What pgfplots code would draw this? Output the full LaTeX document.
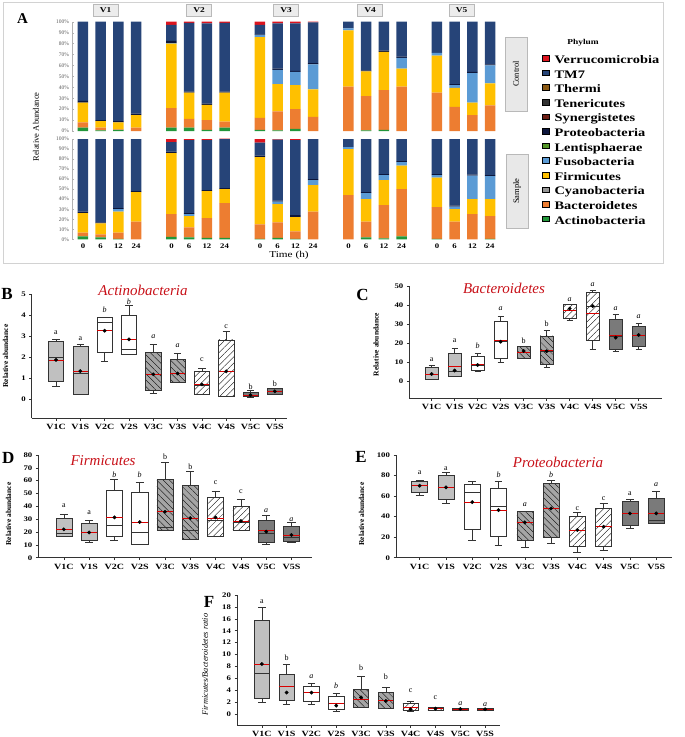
\documentclass[border=0pt]{standalone}
\usepackage{pgfplots}
\pgfplotsset{compat=1.18}
\usepackage{pgfplotstable}
\usepgfplotslibrary{statistics}
\usetikzlibrary{patterns.meta}
\usepackage{fontspec}
\setmainfont{Liberation Serif}
\newfontfamily\wide{Liberation Serif}[FakeStretch=1.25]

\definecolor{cAct}{RGB}{34,150,58}
\definecolor{cBac}{RGB}{237,125,49}
\definecolor{cCya}{RGB}{150,150,150}
\definecolor{cFir}{RGB}{255,192,0}
\definecolor{cFus}{RGB}{91,155,213}
\definecolor{cLen}{RGB}{84,150,40}
\definecolor{cPro}{RGB}{12,22,60}
\definecolor{cSyn}{RGB}{110,30,20}
\definecolor{cTen}{RGB}{50,50,50}
\definecolor{cThe}{RGB}{140,90,20}
\definecolor{cTM}{RGB}{38,68,120}
\definecolor{cVer}{RGB}{220,20,30}
\definecolor{boxA}{RGB}{192,192,192}
\definecolor{boxC}{RGB}{165,165,165}
\definecolor{boxE}{RGB}{122,122,122}
\definecolor{titred}{RGB}{200,16,24}

% ---------------- Panel A data ----------------
\pgfplotstableread{
x act bac fir fus pro tm7 ver
0 3 5 18 0 1.5 72.5 0
1 0.5 2.5 6 0 1 90 0
2 1 0.5 6.5 0 1 91 0
3 0 3 11.6 0 1.4 84 0
5 3 18 59 0.5 2 14.5 3
6 3 8 24 0 1 63 1
7 1 9 14 0 1 73.5 1.5
8 3 5.5 26.5 0 1 63 1
10 1 11 74 2 0.5 8.5 3
11 0.5 17.5 25 13 1 41.5 1.5
12 2 18 22 12 1 43.5 1.5
13 0 13 25 23 1 37.5 0.5
15 0 40.5 51.5 2 0 6 0
16 0.5 31.5 22.5 0 1 44.5 0
17 1 36.5 35 0 1 26.5 0
18 0 40.5 16.5 10 1 32 0
20 0 35 34 2.5 0 28.5 0
21 0 22 17.5 2.5 1 57 0
22 0 14.5 11.5 27 1 46 0
23 0 23.5 20 16.5 1 39 0
}\ctrl
\pgfplotstableread{
x act bac fir fus pro tm7 ver
0 3 3.6 19.4 0 1.5 72.5 0
1 2 3 11 0 1 83 0
2 0.5 6.1 20.9 2.5 1 69 0
3 0 17.6 29.4 0 1 52 0
5 2.5 22.5 61 0 1.5 9.5 3
6 2 10 11 2 1 73 1
7 1.5 19.5 27 0 1 50 1
8 1.5 34.5 14 0 1 49 0.5
10 0.5 14.5 67 0 1.5 13 3.5
11 1.5 15.5 18 2.5 1 61 0.5
12 0.5 7.5 14 0 2 75 1
13 0 27.5 26.5 5 1 40 0
15 0 44 46 2 0 8 0
16 2 15.6 22.4 6 1 53 0
17 1 33 25 5 1 35 0
18 3 47 23.5 3.5 1 22 0
20 0.5 31.5 29.5 2.5 1 35 0
21 0 17.6 12.4 2.5 1 66.5 0
22 0 25 15 23.5 1 35.5 0
23 0.5 22.5 17 23 1 36 0
}\smpl

% ---------------- Box plot data ----------------
\pgfplotstableread{
pos lw lq med uq uw mean dot
0 0.63 0.84 1.98 2.74 2.85 1.87 1.87
1 0.24 0.24 1.23 2.50 2.63 1.34 1.34
2 1.82 2.25 3.66 3.89 3.92 3.26 3.26
3 2.15 2.15 2.37 3.99 4.48 2.85 2.85
4 0.28 0.44 1.19 2.23 2.61 1.19 1.19
5 0.79 0.79 1.23 1.90 2.18 1.23 1.23
6 0.25 0.25 0.65 1.34 1.46 0.71 0.71
7 0.17 0.17 1.33 2.82 3.24 1.33 1.33
8 0.10 0.16 0.20 0.33 0.41 0.20 0.20
9 0.25 0.25 0.40 0.52 0.52 0.38 0.38
}\tB
\pgfplotstableread{
pos lw lq med uq uw mean dot
0 1.2 1.2 4.0 7.5 8.7 4.0 4.0
1 2.6 3.0 5.7 14.8 17.4 7.8 5.8
2 5.7 6.1 8.7 13.1 14.8 9.1 8.7
3 9.9 12.2 21.0 31.4 34.0 21.4 20.9
4 12.2 12.2 15.5 18.3 18.3 15.5 16.0
5 7.5 9.1 15.9 23.9 26.7 16.2 15.9
6 31.9 33.1 37.5 40.4 40.4 37.5 38.2
7 16.9 21.4 39.5 46.5 47.6 35.7 39.5
8 15.7 16.9 23.5 32.6 35.4 24.0 23.0
9 17.2 18.6 24.4 29.1 30.5 24.4 24.4
}\tC
\pgfplotstableread{
pos lw lq med uq uw mean dot
0 16.4 16.9 19.0 30.6 34.0 22.1 22.1
1 12.0 13.8 19.7 26.8 28.8 19.7 19.7
2 13.8 16.4 25.2 52.2 61.0 31.4 31.4
3 10.6 10.6 20.0 50.9 59.0 27.8 27.8
4 21.0 21.6 23.6 61.3 74.0 35.8 35.8
5 14.3 14.3 21.6 56.6 67.0 30.9 30.9
6 16.9 17.1 29.4 47.0 52.0 30.6 31.4
7 21.6 21.6 27.3 39.7 45.5 28.6 28.6
8 10.6 12.0 19.0 29.4 33.2 21.0 20.3
9 11.7 12.5 15.6 24.7 27.3 17.7 17.7
}\tD
\pgfplotstableread{
pos lw lq med uq uw mean dot
0 61.0 63.3 70.1 74.7 75.0 70.1 70.1
1 52.9 56.8 68.8 80.2 83.1 68.8 68.5
2 16.6 27.9 63.3 71.4 74.0 54.2 54.2
3 12.0 20.5 49.7 67.9 74.0 46.4 46.4
4 10.0 17.2 34.4 44.8 44.8 34.4 34.4
5 14.0 19.8 48.0 72.4 75.6 48.0 48.0
6 5.8 10.7 27.0 40.6 43.8 27.0 27.0
7 7.5 11.4 30.2 48.1 53.0 30.2 30.2
8 28.6 31.8 43.1 54.5 57.2 43.1 43.1
9 33.9 33.9 36.0 57.8 64.3 43.1 43.1
}\tE
\pgfplotstableread{
pos lw lq med uq uw mean dot
0 2.0 2.63 6.8 15.7 17.9 8.4 8.4
1 1.68 2.35 4.6 6.72 8.4 4.6 3.6
2 1.68 2.2 3.6 4.6 5.15 3.6 3.6
3 0.4 0.8 1.8 3.0 3.5 1.8 1.4
4 1.12 1.12 2.47 4.15 6.4 2.47 2.8
5 0.95 0.95 2.35 3.6 4.5 2.35 2.2
6 0.4 0.56 1.1 1.8 2.2 1.1 0.8
7 0.56 0.56 0.9 1.1 1.2 0.9 0.9
8 0.7 0.7 0.85 0.95 0.95 0.85 0.85
9 0.56 0.56 0.8 0.9 0.9 0.8 0.8
}\tF

% one box from row #2 of table #1; box extend #3, whisker extend #4
\newcommand\bxrow[4]{%
  \pgfplotstablegetelem{#2}{lw}\of#1\edef\vlw{\pgfplotsretval}%
  \pgfplotstablegetelem{#2}{lq}\of#1\edef\vlq{\pgfplotsretval}%
  \pgfplotstablegetelem{#2}{med}\of#1\edef\vmed{\pgfplotsretval}%
  \pgfplotstablegetelem{#2}{uq}\of#1\edef\vuq{\pgfplotsretval}%
  \pgfplotstablegetelem{#2}{uw}\of#1\edef\vuw{\pgfplotsretval}%
  \edef\tmp{\noexpand\addplot[bx#2, draw=black!80, line width=0.5pt,
    boxplot prepared={draw direction=y, draw position=#2, lower whisker=\vlw, lower quartile=\vlq,
      median=\vmed, upper quartile=\vuq, upper whisker=\vuw,
      box extend=#3, whisker extend=#4}] coordinates {};}%
  \tmp
}

\tikzset{lbl/.style={font=\fontsize{8}{9}\selectfont, inner sep=0pt}}

\pgfplotsset{
  bx0/.style={boxplot/every box/.style={fill=boxA, draw=black!80}},
  bx1/.style={boxplot/every box/.style={fill=boxA, draw=black!80}},
  bx2/.style={boxplot/every box/.style={fill=white, draw=black!80}},
  bx3/.style={boxplot/every box/.style={fill=white, draw=black!80}},
  bx4/.style={boxplot/every box/.style={fill=boxC, draw=black!80, postaction={pattern={Lines[angle=-45,distance=4.5pt,line width=0.35pt]}}}},
  bx5/.style={boxplot/every box/.style={fill=boxC, draw=black!80, postaction={pattern={Lines[angle=-45,distance=4.5pt,line width=0.35pt]}}}},
  bx6/.style={boxplot/every box/.style={fill=white, draw=black!80, postaction={pattern={Lines[angle=45,distance=4.5pt,line width=0.35pt]}}}},
  bx7/.style={boxplot/every box/.style={fill=white, draw=black!80, postaction={pattern={Lines[angle=45,distance=4.5pt,line width=0.35pt]}}}},
  bx8/.style={boxplot/every box/.style={fill=boxE, draw=black!80}},
  bx9/.style={boxplot/every box/.style={fill=boxE, draw=black!80}},
  boxax/.style={scale only axis, anchor=south west, axis lines*=left, clip=false,
    axis line style={black!80, line width=0.6pt}, tick align=outside,
    major tick length=2.5pt, tick style={black!80, line width=0.5pt},
    xtick={0,...,9}, xticklabels={V1C,V1S,V2C,V2S,V3C,V3S,V4C,V4S,V5C,V5S},
    x tick label style={font=\wide\bfseries\fontsize{8}{9}\selectfont},
    y tick label style={font=\wide\bfseries\fontsize{7}{8}\selectfont},
    /pgf/number format/assume math mode=true, enlargelimits=false},
  barax/.style={scale only axis, anchor=south west, width=428.7pt,
    xmin=-0.62, xmax=23.6, ymin=0, ymax=100, ybar stacked, bar width=10.5pt,
    axis lines*=left, x axis line style={draw=none}, xtick style={draw=none},
    y axis line style={gray!60, line width=0.4pt}, ytick style={gray!60},
    ytick={0,10,...,100}, major tick length=1.5pt,
    yticklabels={0\%,10\%,20\%,30\%,40\%,50\%,60\%,70\%,80\%,90\%,100\%},
    y tick label style={font=\fontsize{5.5}{6}\selectfont, text=black!65, xshift=0.5pt},
    enlargelimits=false, clip=false}
}

\begin{document}
\begin{tikzpicture}
\path[use as bounding box] (0,0) rectangle (685pt,-737pt);

% ================= PANEL A =================
\draw[gray!35, line width=0.6pt] (3pt,-2pt) rectangle (663pt,-263pt);
\node[font=\bfseries\fontsize{15}{16}\selectfont] at (22.5pt,-19pt) {A};

\begin{axis}[barax, at={(72pt,-131pt)}, height=109.3pt, xtick=\empty]
\addplot[fill=cAct, draw=none] table[x=x, y=act]{\ctrl};
\addplot[fill=cBac, draw=none] table[x=x, y=bac]{\ctrl};
\addplot[fill=cFir, draw=none] table[x=x, y=fir]{\ctrl};
\addplot[fill=cFus, draw=none] table[x=x, y=fus]{\ctrl};
\addplot[fill=cPro, draw=none] table[x=x, y=pro]{\ctrl};
\addplot[fill=cTM, draw=none] table[x=x, y=tm7]{\ctrl};
\addplot[fill=cVer, draw=none] table[x=x, y=ver]{\ctrl};
\end{axis}

\begin{axis}[barax, at={(72pt,-239.3pt)}, height=100.3pt,
  xtick={0,1,2,3,5,6,7,8,10,11,12,13,15,16,17,18,20,21,22,23},
  xticklabels={0,6,12,24,0,6,12,24,0,6,12,24,0,6,12,24,0,6,12,24},
  x tick label style={font=\wide\bfseries\fontsize{7}{8}\selectfont, yshift=-1pt}]
\addplot[fill=cAct, draw=none] table[x=x, y=act]{\smpl};
\addplot[fill=cBac, draw=none] table[x=x, y=bac]{\smpl};
\addplot[fill=cFir, draw=none] table[x=x, y=fir]{\smpl};
\addplot[fill=cFus, draw=none] table[x=x, y=fus]{\smpl};
\addplot[fill=cPro, draw=none] table[x=x, y=pro]{\smpl};
\addplot[fill=cTM, draw=none] table[x=x, y=tm7]{\smpl};
\addplot[fill=cVer, draw=none] table[x=x, y=ver]{\smpl};
\end{axis}

\node[rotate=90, font=\fontsize{8.5}{9}\selectfont] at (36pt,-127pt) {Relative Abundance};
\node[font=\wide\fontsize{9}{10}\selectfont] at (289pt,-255pt) {Time (h)};

\foreach \lab/\cx in {V1/105.5,V2/199,V3/286,V4/370,V5/461.5}
  \node[draw=gray!55, fill=gray!15, minimum width=25pt, minimum height=12pt, inner sep=0pt,
        font=\wide\bfseries\fontsize{7.5}{8}\selectfont] at (\cx pt,-10.5pt) {\lab};

\node[draw=gray!55, fill=gray!18, minimum width=22pt, minimum height=74pt, inner sep=0pt] at (516pt,-74pt) {};
\node[rotate=90, font=\fontsize{8.5}{9}\selectfont] at (516pt,-74pt) {Control};
\node[draw=gray!55, fill=gray!18, minimum width=22pt, minimum height=74pt, inner sep=0pt] at (517pt,-191pt) {};
\node[rotate=90, font=\fontsize{8.5}{9}\selectfont] at (517pt,-191pt) {Sample};

\node[font=\wide\bfseries\fontsize{7.5}{8}\selectfont] at (583pt,-43pt) {Phylum};
\begin{axis}[at={(542pt,-55pt)}, anchor=north west, hide axis, scale only axis,
  width=1pt, height=1pt, xmin=0, xmax=1, ymin=0, ymax=1,
  legend style={at={(0,1)}, anchor=north west, draw=none, fill=none, inner sep=0pt,
    font=\wide\bfseries\fontsize{11.5}{12}\selectfont, row sep=4.4pt,
    nodes={inner sep=0pt, text height=8pt, text depth=2pt},
    /tikz/every odd column/.style={column sep=5pt}},
  legend cell align=left,
  legend image code/.code={\fill[#1] (0pt,-0.5pt) rectangle (7pt,5pt);}]
\addlegendimage{fill=cVer}\addlegendentry{Verrucomicrobia}
\addlegendimage{fill=cTM}\addlegendentry{TM7}
\addlegendimage{fill=cThe}\addlegendentry{Thermi}
\addlegendimage{fill=cTen}\addlegendentry{Tenericutes}
\addlegendimage{fill=cSyn}\addlegendentry{Synergistetes}
\addlegendimage{fill=cPro}\addlegendentry{Proteobacteria}
\addlegendimage{fill=cLen}\addlegendentry{Lentisphaerae}
\addlegendimage{fill=cFus}\addlegendentry{Fusobacteria}
\addlegendimage{fill=cFir}\addlegendentry{Firmicutes}
\addlegendimage{fill=cCya}\addlegendentry{Cyanobacteria}
\addlegendimage{fill=cBac}\addlegendentry{Bacteroidetes}
\addlegendimage{fill=cAct}\addlegendentry{Actinobacteria}
\end{axis}

% ================= PANEL B =================
\begin{axis}[boxax, at={(31.7pt,-418.3pt)}, width=255.3pt, height=124.3pt,
  xmin=-1, xmax=9.5, ymin=-0.9, ymax=5, ytick={0,...,5}]
\pgfplotsinvokeforeach{0,...,9}{\bxrow{\tB}{#1}{0.62}{0.3}}
\addplot[only marks, mark=-, mark size=7.5pt, mark options={draw=red!85!black, line width=0.6pt}] table[x=pos, y=mean]{\tB};
\addplot[only marks, mark=*, mark size=1.7pt, black] table[x=pos, y=dot]{\tB};
\node[lbl] at (axis cs:0,3.16) {a};
\node[lbl] at (axis cs:1,2.86) {a};
\node[lbl] at (axis cs:2,4.27) {\itshape b};
\node[lbl] at (axis cs:3,4.64) {\itshape b};
\node[lbl] at (axis cs:4,2.97) {\itshape a};
\node[lbl] at (axis cs:5,2.53) {\itshape a};
\node[lbl] at (axis cs:6,1.87) {c};
\node[lbl] at (axis cs:7,3.45) {c};
\node[lbl] at (axis cs:8,0.62) {b};
\node[lbl] at (axis cs:9,0.76) {b};
\end{axis}
\node[font=\bfseries\fontsize{17}{18}\selectfont] at (7pt,-294pt) {B};
\node[font=\itshape\fontsize{15}{16}\selectfont, text=titred] at (143pt,-290.5pt) {Actinobacteria};
\node[rotate=90, font=\bfseries\fontsize{7.5}{8}\selectfont] at (5.5pt,-356pt) {Relative abundance};

% ================= PANEL C =================
\begin{axis}[boxax, at={(409.3pt,-398.3pt)}, width=252.4pt, height=112.3pt,
  xmin=-0.97, xmax=10, ymin=-8.7, ymax=50, ytick={0,10,...,50}]
\pgfplotsinvokeforeach{0,...,9}{\bxrow{\tC}{#1}{0.54}{0.27}}
\addplot[only marks, mark=-, mark size=6.2pt, mark options={draw=red!85!black, line width=0.6pt}] table[x=pos, y=mean]{\tC};
\addplot[only marks, mark=*, mark size=1.7pt, black] table[x=pos, y=dot]{\tC};
\node[lbl] at (axis cs:0,11.7) {a};
\node[lbl] at (axis cs:1,21.4) {a};
\node[lbl] at (axis cs:2,18.6) {\itshape b};
\node[lbl] at (axis cs:3,38.3) {\itshape a};
\node[lbl] at (axis cs:4,21.4) {b};
\node[lbl] at (axis cs:5,30.1) {b};
\node[lbl] at (axis cs:6,42.7) {\itshape a};
\node[lbl] at (axis cs:7,50.5) {\itshape a};
\node[lbl] at (axis cs:8,38.3) {\itshape a};
\node[lbl] at (axis cs:9,34.0) {\itshape a};
\end{axis}
\node[font=\bfseries\fontsize{17}{18}\selectfont] at (362.5pt,-295pt) {C};
\node[font=\itshape\fontsize{15}{16}\selectfont, text=titred] at (504pt,-288pt) {Bacteroidetes};
\node[rotate=90, font=\bfseries\fontsize{7.5}{8}\selectfont] at (376pt,-344.5pt) {Relative abundance};

% ================= PANEL D =================
\begin{axis}[boxax, at={(38.3pt,-557.7pt)}, width=273.4pt, height=102.7pt,
  xmin=-1.01, xmax=9.8, ymin=0, ymax=80, ytick={0,10,...,80}]
\pgfplotsinvokeforeach{0,...,9}{\bxrow{\tD}{#1}{0.64}{0.32}}
\addplot[only marks, mark=-, mark size=8.1pt, mark options={draw=red!85!black, line width=0.6pt}] table[x=pos, y=mean]{\tD};
\addplot[only marks, mark=*, mark size=1.7pt, black] table[x=pos, y=dot]{\tD};
\node[lbl] at (axis cs:0,40.3) {a};
\node[lbl] at (axis cs:1,35.0) {a};
\node[lbl] at (axis cs:2,64.4) {\itshape b};
\node[lbl] at (axis cs:3,64.4) {\itshape b};
\node[lbl] at (axis cs:4,78.7) {b};
\node[lbl] at (axis cs:5,70.9) {b};
\node[lbl] at (axis cs:6,58.4) {c};
\node[lbl] at (axis cs:7,51.4) {c};
\node[lbl] at (axis cs:8,36.6) {\itshape a};
\node[lbl] at (axis cs:9,29.4) {\itshape a};
\end{axis}
\node[font=\bfseries\fontsize{17}{18}\selectfont] at (8.3pt,-458pt) {D};
\node[font=\itshape\fontsize{15}{16}\selectfont, text=titred] at (103pt,-461pt) {Firmicutes};
\node[rotate=90, font=\bfseries\fontsize{7.5}{8}\selectfont] at (8.5pt,-514pt) {Relative abundance};

% ================= PANEL E =================
\begin{axis}[boxax, at={(396pt,-557.7pt)}, width=276pt, height=102.7pt,
  xmin=-0.9, xmax=9.6, ymin=0, ymax=100, ytick={0,20,...,100}]
\pgfplotsinvokeforeach{0,...,9}{\bxrow{\tE}{#1}{0.61}{0.3}}
\addplot[only marks, mark=-, mark size=8pt, mark options={draw=red!85!black, line width=0.6pt}] table[x=pos, y=mean]{\tE};
\addplot[only marks, mark=*, mark size=1.7pt, black] table[x=pos, y=dot]{\tE};
\node[lbl] at (axis cs:0,82.8) {a};
\node[lbl] at (axis cs:1,87.0) {a};
\node[lbl] at (axis cs:3,80.5) {\itshape b};
\node[lbl] at (axis cs:4,51.3) {\itshape a};
\node[lbl] at (axis cs:5,80.5) {\itshape b};
\node[lbl] at (axis cs:6,47.4) {c};
\node[lbl] at (axis cs:7,57.8) {c};
\node[lbl] at (axis cs:8,62.7) {a};
\node[lbl] at (axis cs:9,70.8) {\itshape a};
\end{axis}
\node[font=\bfseries\fontsize{17}{18}\selectfont] at (361pt,-457pt) {E};
\node[font=\itshape\fontsize{15}{16}\selectfont, text=titred] at (558pt,-462pt) {Proteobacteria};
\node[rotate=90, font=\bfseries\fontsize{7.5}{8}\selectfont] at (361.5pt,-514pt) {Relative abundance};

% ================= PANEL F =================
\begin{axis}[boxax, at={(237pt,-725pt)}, width=263pt, height=130pt,
  xmin=-1, xmax=9.6, ymin=-1.85, ymax=20, ytick={0,2,...,20}]
\pgfplotsinvokeforeach{0,...,9}{\bxrow{\tF}{#1}{0.62}{0.3}}
\addplot[only marks, mark=-, mark size=7.6pt, mark options={draw=red!85!black, line width=0.6pt}] table[x=pos, y=mean]{\tF};
\addplot[only marks, mark=*, mark size=1.7pt, black] table[x=pos, y=dot]{\tF};
\node[lbl] at (axis cs:0,18.8) {a};
\node[lbl] at (axis cs:1,9.4) {b};
\node[lbl] at (axis cs:2,6.3) {\itshape a};
\node[lbl] at (axis cs:3,4.76) {\itshape b};
\node[lbl] at (axis cs:4,7.8) {b};
\node[lbl] at (axis cs:5,6.3) {b};
\node[lbl] at (axis cs:6,3.9) {c};
\node[lbl] at (axis cs:7,2.75) {c};
\node[lbl] at (axis cs:8,1.68) {\itshape a};
\node[lbl] at (axis cs:9,1.6) {\itshape a};
\end{axis}
\node[font=\bfseries\fontsize{17}{18}\selectfont] at (209pt,-601.5pt) {F};
\node[rotate=90, font=\itshape\fontsize{8.3}{9}\selectfont] at (205pt,-664.5pt) {Firmicutes/Bacteroidetes ratio};

\end{tikzpicture}
\end{document}
